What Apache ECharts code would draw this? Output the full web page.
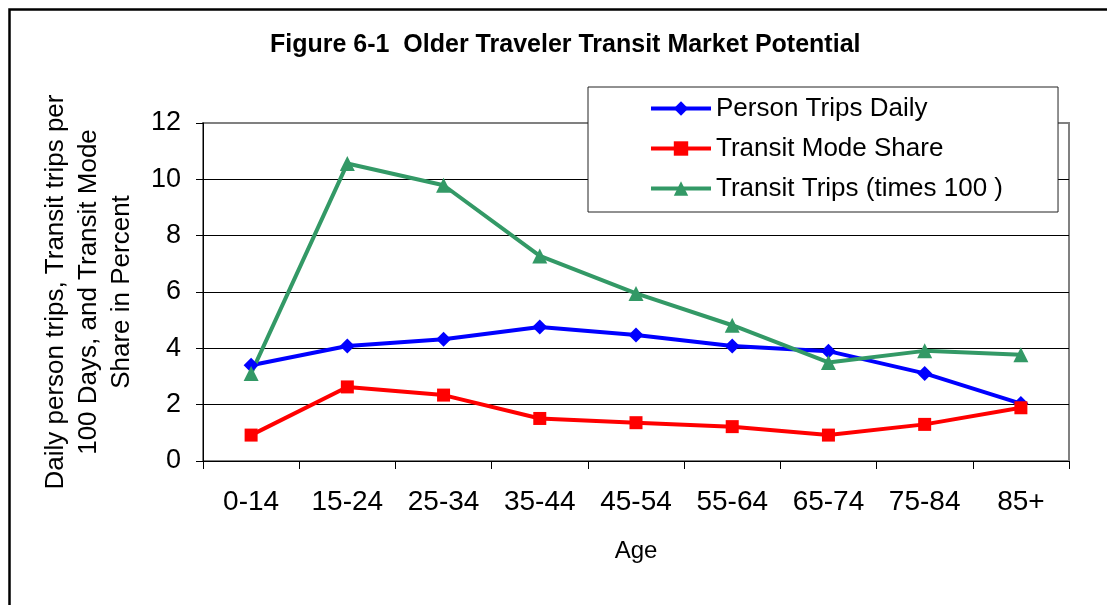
<!DOCTYPE html>
<html>
<head>
<meta charset="utf-8">
<script src="https://cdn.jsdelivr.net/npm/echarts@6/dist/echarts.min.js"></script>
<style>
  html, body { margin: 0; padding: 0; background: #fff; }
  #chart { width: 1107px; height: 605px; }
</style>
</head>
<body>
<div id="chart"></div>
<script>
// Age groups along the horizontal axis
const ageGroups = ['0-14', '15-24', '25-34', '35-44', '45-54', '55-64', '65-74', '75-84', '85+'];

// Average person trips per day
const personTripsDaily = [3.40, 4.08, 4.32, 4.76, 4.47, 4.08, 3.90, 3.11, 2.04];
// Transit share of trips, in percent
const transitModeShare = [0.92, 2.63, 2.34, 1.51, 1.36, 1.22, 0.92, 1.30, 1.89];
// Transit trips per day, multiplied by 100
const transitTrips100 = [3.11, 10.56, 9.79, 7.28, 5.95, 4.82, 3.50, 3.91, 3.77];

const yTicks = { min: 0, max: 12, interval: 2 };

const seriesNames = ['Person Trips Daily', 'Transit Mode Share', 'Transit Trips (times 100 )'];

const FONT = '"Liberation Sans", Arial, sans-serif';

const chart = echarts.init(document.getElementById('chart'), null, { renderer: 'canvas' });

function lineSeries(name, data, color, symbol, size) {
  return {
    name: name,
    type: 'line',
    data: data,
    symbol: symbol,
    symbolSize: size,
    showAllSymbol: true,
    lineStyle: { color: color, width: 4 },
    itemStyle: { color: color },
    emphasis: { disabled: true },
    animation: false
  };
}

chart.setOption({
  animation: false,
  backgroundColor: '#fff',
  textStyle: { fontFamily: FONT },
  title: {
    text: 'Figure 6-1  Older Traveler Transit Market Potential',
    left: 265,
    top: 28,
    textStyle: { fontFamily: FONT, fontWeight: 'bold', fontSize: 25, color: '#000' }
  },
  legend: {
    orient: 'vertical',
    left: 588,
    top: 87,
    padding: [6, 55, 8, 61],
    borderColor: '#222',
    borderWidth: 1,
    backgroundColor: '#fff',
    itemWidth: 60,
    itemHeight: 18,
    itemGap: 9,
    data: seriesNames,
    lineStyle: { width: 4 },
    textStyle: { fontFamily: FONT, fontSize: 26, color: '#000', lineHeight: 31 },
    selectedMode: false
  },
  grid: {
    left: 203,
    right: 38,
    top: 123,
    bottom: 144,
    show: true,
    borderColor: '#808080',
    borderWidth: 2,
    backgroundColor: 'transparent'
  },
  xAxis: {
    type: 'category',
    data: ageGroups,
    boundaryGap: true,
    name: 'Age',
    nameLocation: 'middle',
    nameGap: 78,
    nameTextStyle: { fontFamily: FONT, fontSize: 24, color: '#000' },
    axisLine: { lineStyle: { color: '#000', width: 1 } },
    axisTick: { show: true, inside: false, length: 8, lineStyle: { color: '#000' } },
    axisLabel: { fontFamily: FONT, fontSize: 28, color: '#000', margin: 27, interval: 0 },
    splitLine: { show: false }
  },
  yAxis: {
    type: 'value',
    min: yTicks.min,
    max: yTicks.max,
    interval: yTicks.interval,
    name: 'Daily person trips, Transit trips per\n100 Days, and Transit Mode\nShare in Percent',
    nameLocation: 'middle',
    nameRotate: 90,
    nameGap: 65,
    nameTextStyle: { fontFamily: FONT, fontSize: 26, color: '#000', lineHeight: 33, align: 'center' },
    axisLine: { show: true, lineStyle: { color: '#000', width: 1 } },
    axisTick: { show: true, inside: false, length: 7, lineStyle: { color: '#000' } },
    axisLabel: { fontFamily: FONT, fontSize: 27, color: '#000', margin: 22 },
    splitLine: { show: true, showMaxLine: false, lineStyle: { color: '#000', width: 1 } }
  },
  series: [
    lineSeries(seriesNames[0], personTripsDaily, '#0000ff', 'diamond', 15),
    lineSeries(seriesNames[1], transitModeShare, '#ff0000', 'rect', 13),
    lineSeries(seriesNames[2], transitTrips100, '#339966', 'triangle', 15)
  ],
  graphic: [
    {
      type: 'rect',
      left: 7,
      top: 7,
      shape: { x: 0, y: 0, width: 1110, height: 610 },
      style: { fill: 'none', stroke: '#000', lineWidth: 2.5 },
      silent: true,
      z: -1
    }
  ]
});
</script>
</body>
</html>
